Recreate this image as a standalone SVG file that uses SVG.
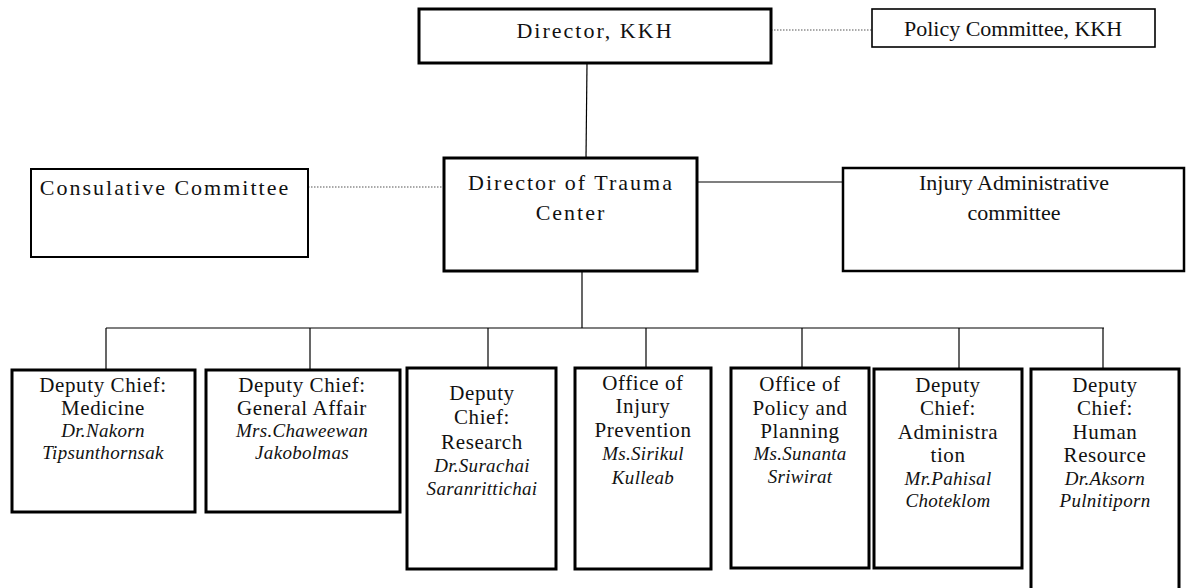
<svg xmlns="http://www.w3.org/2000/svg" width="1193" height="588" viewBox="0 0 1193 588">
<style>
.bg{fill:#fff}
.box{fill:#fff;stroke:#000;stroke-width:3}
.thin{fill:#fff;stroke:#000;stroke-width:1.6}
.t{font-family:"Liberation Serif","Times New Roman",serif;font-size:22px;fill:#111;text-anchor:middle}
.top{letter-spacing:2px}
.r{font-family:"Liberation Serif","Times New Roman",serif;font-size:21px;fill:#111;text-anchor:middle;letter-spacing:0.6px}
.i{font-family:"Liberation Serif","Times New Roman",serif;font-size:19px;font-style:italic;fill:#111;text-anchor:middle;letter-spacing:0.3px}
.ln{stroke:#000;stroke-width:1.2;fill:none}
.dot{stroke:#555;stroke-width:1.2;stroke-dasharray:1.5 1.5;fill:none}
</style>
<rect class="bg" x="0" y="0" width="1193" height="588"/>
<g id="connectors">
<line class="dot" x1="771" y1="30" x2="872" y2="30"/>
<line class="ln" x1="587" y1="63" x2="586" y2="158"/>
<line class="dot" x1="308" y1="187" x2="444" y2="187"/>
<line class="ln" x1="697" y1="182" x2="843" y2="182"/>
<line class="ln" x1="582" y1="271" x2="582" y2="328"/>
<line class="ln" x1="106" y1="328" x2="1104" y2="328"/>
<line class="ln" x1="106" y1="328" x2="106" y2="370"/>
<line class="ln" x1="310" y1="328" x2="310" y2="370"/>
<line class="ln" x1="488" y1="328" x2="488" y2="368"/>
<line class="ln" x1="646" y1="328" x2="646" y2="368"/>
<line class="ln" x1="802" y1="328" x2="802" y2="368"/>
<line class="ln" x1="959" y1="328" x2="959" y2="369"/>
<line class="ln" x1="1103" y1="328" x2="1103" y2="369"/>
</g>
<g id="director-kkh">
<rect class="box" x="419" y="9" width="352" height="54"/>
<text class="t top" x="595" y="38">Director, KKH</text>
</g>
<g id="policy-committee">
<rect class="thin" x="872" y="9" width="283" height="38"/>
<text class="t" x="1013" y="36">Policy Committee, KKH</text>
</g>
<g id="consulative-committee">
<rect class="thin" x="31" y="169" width="277" height="88" style="stroke-width:2"/>
<text class="t top" x="165" y="195">Consulative Committee</text>
</g>
<g id="director-trauma">
<rect class="box" x="444" y="158" width="253" height="113"/>
<text class="t top" x="571" y="190">Director of Trauma</text>
<text class="t top" x="571" y="220">Center</text>
</g>
<g id="injury-admin">
<rect class="box" x="843" y="168" width="341" height="103" style="stroke-width:2.5"/>
<text class="t" x="1014" y="190">Injury Administrative</text>
<text class="t" x="1014" y="220">committee</text>
</g>
<g id="medicine">
<rect class="box" x="12" y="370" width="183" height="142"/>
<text class="r" x="103" y="392">Deputy Chief:</text>
<text class="r" x="103" y="415">Medicine</text>
<text class="i" x="103" y="437">Dr.Nakorn</text>
<text class="i" x="103" y="459">Tipsunthornsak</text>
</g>
<g id="general-affair">
<rect class="box" x="206" y="370" width="194" height="142"/>
<text class="r" x="302" y="392">Deputy Chief:</text>
<text class="r" x="302" y="415">General Affair</text>
<text class="i" x="302" y="437">Mrs.Chaweewan</text>
<text class="i" x="302" y="459">Jakobolmas</text>
</g>
<g id="research">
<rect class="box" x="407" y="368" width="149" height="201"/>
<text class="r" x="482" y="400">Deputy</text>
<text class="r" x="482" y="424">Chief:</text>
<text class="r" x="482" y="449">Research</text>
<text class="i" x="482" y="472">Dr.Surachai</text>
<text class="i" x="482" y="495">Saranrittichai</text>
</g>
<g id="injury-prevention">
<rect class="box" x="575" y="368" width="136" height="201"/>
<text class="r" x="643" y="390">Office of</text>
<text class="r" x="643" y="413">Injury</text>
<text class="r" x="643" y="437">Prevention</text>
<text class="i" x="643" y="460">Ms.Sirikul</text>
<text class="i" x="643" y="484">Kulleab</text>
</g>
<g id="policy-planning">
<rect class="box" x="731" y="368" width="138" height="200"/>
<text class="r" x="800" y="391">Office of</text>
<text class="r" x="800" y="415">Policy and</text>
<text class="r" x="800" y="438">Planning</text>
<text class="i" x="800" y="460">Ms.Sunanta</text>
<text class="i" x="800" y="483">Sriwirat</text>
</g>
<g id="administration">
<rect class="box" x="874" y="369" width="148" height="199"/>
<text class="r" x="948" y="392">Deputy</text>
<text class="r" x="948" y="415">Chief:</text>
<text class="r" x="948" y="439">Administra</text>
<text class="r" x="948" y="462">tion</text>
<text class="i" x="948" y="485">Mr.Pahisal</text>
<text class="i" x="948" y="507">Choteklom</text>
</g>
<g id="human-resource">
<rect class="box" x="1031" y="369" width="148" height="225"/>
<text class="r" x="1105" y="392">Deputy</text>
<text class="r" x="1105" y="415">Chief:</text>
<text class="r" x="1105" y="439">Human</text>
<text class="r" x="1105" y="462">Resource</text>
<text class="i" x="1105" y="485">Dr.Aksorn</text>
<text class="i" x="1105" y="507">Pulnitiporn</text>
</g>
</svg>
